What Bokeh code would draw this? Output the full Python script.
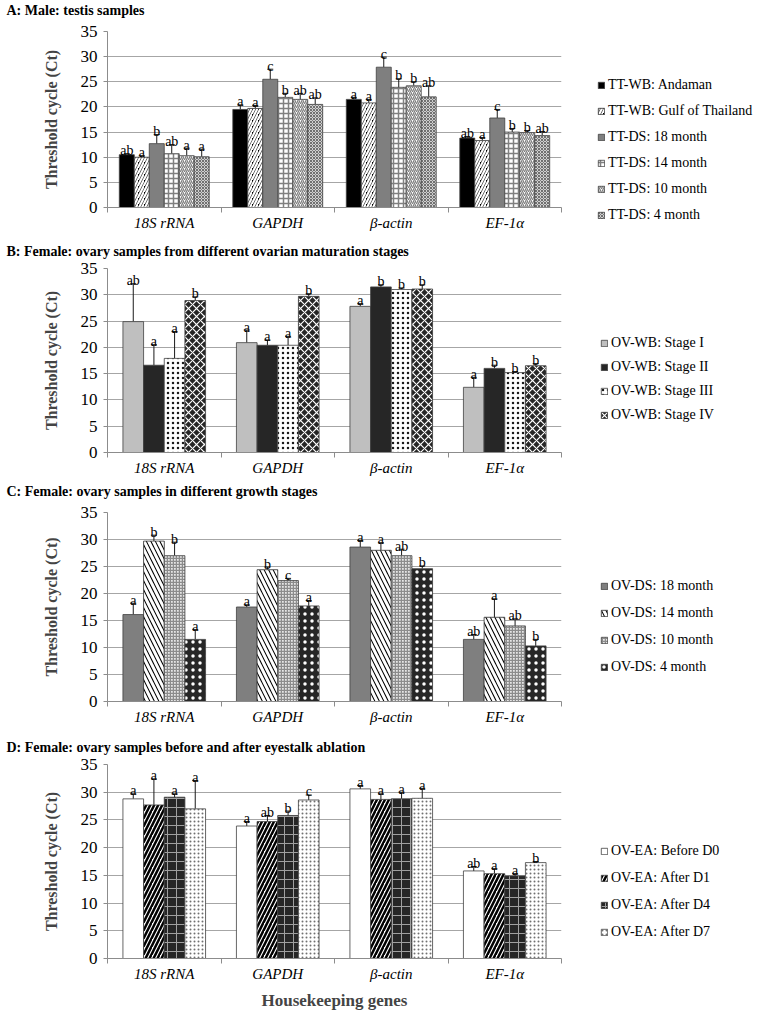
from bokeh.plotting import figure
from bokeh.models import (Range1d, FixedTicker, Whisker, TeeHead, ColumnDataSource,
                          Legend, LegendItem, Label)
from bokeh.transform import dodge
from bokeh.layouts import column
from bokeh.embed import file_html
from bokeh.resources import INLINE
from bokeh.core.properties import value

# ---------------- data ----------------
genes = ["18S rRNA", "GAPDH", "β-actin", "EF-1α"]
y_ticks = [0, 5, 10, 15, 20, 25, 30, 35]
y_label = "Threshold cycle (Ct)"
x_label = "Housekeeping genes"

a_title = "A: Male: testis samples"
a_series = ["TT-WB: Andaman", "TT-WB: Gulf of Thailand", "TT-DS: 18 month",
            "TT-DS: 14 month", "TT-DS: 10 month", "TT-DS: 4 month"]
a_means = [[10.5, 19.5, 21.5, 13.8],
           [10.0, 19.7, 20.8, 13.3],
           [12.7, 25.5, 27.9, 17.8],
           [10.7, 21.9, 23.9, 15.0],
           [10.3, 21.5, 24.2, 14.9],
           [10.1, 20.5, 22.0, 14.3]]
a_errs = [[0.2, 0.9, 0.4, 0.3],
          [0.3, 0.6, 0.7, 0.6],
          [1.8, 2.0, 2.0, 1.7],
          [1.8, 0.8, 1.7, 0.7],
          [1.5, 1.2, 0.8, 0.4],
          [1.5, 1.3, 2.2, 0.8]]
a_letters = [["ab", "a", "a", "ab"],
             ["a", "a", "a", "a"],
             ["b", "c", "c", "c"],
             ["ab", "b", "b", "b"],
             ["a", "ab", "b", "b"],
             ["a", "ab", "ab", "ab"]]

b_title = "B: Female: ovary samples from different ovarian maturation stages"
b_series = ["OV-WB: Stage I", "OV-WB: Stage II", "OV-WB: Stage III", "OV-WB: Stage IV"]
b_means = [[24.9, 20.9, 27.8, 12.4],
           [16.6, 20.4, 31.5, 16.0],
           [17.9, 20.4, 31.0, 15.2],
           [28.9, 29.7, 31.1, 16.5]]
b_errs = [[7.2, 2.4, 0.5, 1.9],
          [3.9, 1.0, 0.4, 0.6],
          [5.1, 1.7, 0.3, 0.2],
          [0.7, 0.5, 0.8, 0.4]]
b_letters = [["ab", "a", "a", "a"],
             ["a", "a", "b", "b"],
             ["a", "a", "b", "b"],
             ["b", "b", "b", "b"]]

c_title = "C: Female: ovary samples in different growth stages"
c_series = ["OV-DS: 18 month", "OV-DS: 14 month", "OV-DS: 10 month", "OV-DS: 4 month"]
c_means = [[16.1, 17.5, 28.6, 11.5],
           [29.7, 24.4, 28.0, 15.6],
           [27.0, 22.4, 27.0, 14.0],
           [11.5, 17.7, 24.6, 10.3]]
c_errs = [[2.1, 0.4, 1.2, 0.9],
          [1.1, 0.5, 1.4, 3.4],
          [2.5, 0.4, 1.2, 1.3],
          [1.8, 1.0, 0.5, 1.2]]
c_letters = [["a", "a", "a", "ab"],
             ["b", "b", "a", "a"],
             ["b", "c", "ab", "ab"],
             ["a", "a", "b", "b"]]

d_title = "D: Female: ovary samples before and after eyestalk ablation"
d_series = ["OV-EA: Before D0", "OV-EA: After D1", "OV-EA: After D4", "OV-EA: After D7"]
d_means = [[28.8, 23.9, 30.6, 15.8],
           [27.7, 24.7, 28.7, 15.3],
           [29.1, 25.8, 28.8, 14.9],
           [27.0, 28.6, 28.9, 17.3]]
d_errs = [[0.9, 0.8, 0.6, 0.8],
          [4.7, 1.1, 1.0, 0.9],
          [0.6, 0.8, 1.2, 0.4],
          [5.1, 0.9, 1.8, 0.2]]
d_letters = [["a", "a", "a", "ab"],
             ["a", "ab", "a", "a"],
             ["a", "b", "a", "a"],
             ["a", "c", "a", "b"]]

# ---------------- styles ----------------
FONT = "Liberation Serif"
OUT = "#404040"
a_styles = [
    dict(fill_color="#000000"),
    dict(fill_color="#000000", hatch_pattern="/", hatch_color="#ffffff", hatch_weight=2.2, hatch_scale=6),
    dict(fill_color="#7f7f7f"),
    dict(fill_color="#ffffff", hatch_pattern="+", hatch_color="#808080", hatch_weight=1.5, hatch_scale=5),
    dict(fill_color="#ffffff", hatch_pattern="/", hatch_color="#7f7f7f", hatch_weight=1.3, hatch_scale=4),
    dict(fill_color="#d0d0d0", hatch_pattern="x", hatch_color="#707070", hatch_weight=1.0, hatch_scale=3),
]
b_styles = [
    dict(fill_color="#bfbfbf"),
    dict(fill_color="#262626"),
    dict(fill_color="#ffffff", hatch_pattern=".", hatch_color="#1a1a1a", hatch_weight=4, hatch_scale=5),
    dict(fill_color="#262626", hatch_pattern="x", hatch_color="#ffffff", hatch_weight=1.2, hatch_scale=8),
]
c_styles = [
    dict(fill_color="#7f7f7f"),
    dict(fill_color="#000000", hatch_pattern="\\", hatch_color="#ffffff", hatch_weight=3, hatch_scale=9),
    dict(fill_color="#e6e6e6", hatch_pattern="+", hatch_color="#8c8c8c", hatch_weight=1.5, hatch_scale=3),
    dict(fill_color="#262626", hatch_pattern=".", hatch_color="#ffffff", hatch_weight=1.0, hatch_scale=7),
]
d_styles = [
    dict(fill_color="#ffffff"),
    dict(fill_color="#ffffff", hatch_pattern="/", hatch_color="#000000", hatch_weight=2.5, hatch_scale=8),
    dict(fill_color="#262626", hatch_pattern="+", hatch_color="#a0a0a0", hatch_weight=1, hatch_scale=9),
    dict(fill_color="#ffffff", hatch_pattern=".", hatch_color="#707070", hatch_weight=1.2, hatch_scale=4),
]

# category slots on the linear x scale: centres and boundaries
gene_pos = [i + 0.5 for i in range(len(genes))]
gene_bounds = [float(i) for i in range(len(genes) + 1)]


def make_panel(title, series, means, errs, letters, styles, bar_w,
               top_b, frame_h, bottom_b, title_y, leg_xy, leg_pitch, show_xlabel=False):
    p = figure(x_range=Range1d(0, len(genes)), y_range=Range1d(0, 35),
               frame_width=454, frame_height=frame_h,
               min_border_left=107, min_border_right=199,
               min_border_top=top_b, min_border_bottom=bottom_b,
               toolbar_location=None, output_backend="svg")
    p.background_fill_color = "#ffffff"
    p.border_fill_color = "#ffffff"
    p.outline_line_color = None
    p.xgrid.visible = False

    # panel title, placed in the area above the plot frame
    p.add_layout(Label(x=-101, y=title_y, x_units="screen", y_units="screen", text=title,
                       text_font=FONT, text_font_size="14px", text_font_style="bold",
                       text_color="#000000", text_align="left",
                       text_baseline="alphabetic"), "above")

    ya = p.yaxis[0]
    ya.ticker = FixedTicker(ticks=y_ticks)
    ya.axis_label = y_label
    ya.axis_label_text_font = FONT
    ya.axis_label_text_font_size = "16px"
    ya.axis_label_text_font_style = "bold"
    ya.axis_label_standoff = 18
    ya.major_label_text_font = FONT
    ya.major_label_text_font_size = "17px"
    ya.major_label_text_color = "#000000"
    ya.major_tick_out = 4
    ya.major_tick_in = 0
    ya.minor_tick_line_color = None
    ya.axis_line_color = "#8c8c8c"
    ya.major_tick_line_color = "#8c8c8c"
    ya.major_label_standoff = 6
    p.ygrid.grid_line_color = "#a6a6a6"

    xa = p.xaxis[0]
    xa.ticker = FixedTicker(ticks=gene_pos, minor_ticks=gene_bounds)
    xa.major_label_overrides = {pos: g for pos, g in zip(gene_pos, genes)}
    xa.major_tick_line_color = None
    xa.major_tick_out = 0
    xa.major_tick_in = 0
    xa.minor_tick_out = 5
    xa.minor_tick_in = 0
    xa.minor_tick_line_color = "#8c8c8c"
    xa.axis_line_color = "#8c8c8c"
    xa.major_label_standoff = 2
    xa.major_label_text_font = FONT
    xa.major_label_text_font_size = "15px"
    xa.major_label_text_font_style = "italic"
    xa.major_label_text_color = "#000000"
    if show_xlabel:
        xa.axis_label = x_label
        xa.axis_label_text_font = FONT
        xa.axis_label_text_font_size = "17px"
        xa.axis_label_text_font_style = "bold"
        xa.axis_label_standoff = 6

    n = len(series)
    items = []
    for i, name in enumerate(series):
        off = (i - (n - 1) / 2) * bar_w
        src = ColumnDataSource(data=dict(
            pos=gene_pos,
            gene=genes,
            mean=means[i],
            upper=[m + e for m, e in zip(means[i], errs[i])],
            letter=letters[i]))
        r = p.vbar(x=dodge("pos", off), top="mean", width=bar_w,
                   source=src, line_color=OUT, line_width=0.8, **styles[i])
        w = Whisker(source=src, base=dodge("pos", off),
                    upper="upper", lower="mean", dimension="height",
                    line_color="#1a1a1a", line_width=1,
                    upper_head=TeeHead(size=6, line_color="#1a1a1a", line_width=1),
                    lower_head=None)
        p.add_layout(w)
        p.text(x=dodge("pos", off), y="upper", text="letter", source=src,
               text_align="center", text_baseline="alphabetic", y_offset=-3,
               text_font=value(FONT), text_font_size=value("14px"), text_color="#000000")
        items.append(LegendItem(label=name, renderers=[r]))

    leg = Legend(items=items, location=leg_xy, orientation="vertical",
                 glyph_width=8, glyph_height=8, label_standoff=3,
                 label_height=20, spacing=int(round(leg_pitch - 20)),
                 padding=0, margin=0, border_line_color=None,
                 background_fill_alpha=0,
                 label_text_font=FONT, label_text_font_size="14px",
                 label_text_color="#000000")
    p.add_layout(leg, "right")
    return p


pa = make_panel(a_title, a_series, a_means, a_errs, a_letters, a_styles, 0.132,
                31, 176, 33, 21, (36, -18), 26)
pb = make_panel(b_title, b_series, b_means, b_errs, b_letters, b_styles, 0.182,
                28, 184, 32, 17, (39, 27), 24)
pc = make_panel(c_title, c_series, c_means, c_errs, c_letters, c_styles, 0.182,
                28, 189, 38, 21, (39, 24), 27)
pd = make_panel(d_title, d_series, d_means, d_errs, d_letters, d_styles, 0.182,
                25, 194, 50, 17, (39, 16), 27, show_xlabel=True)

layout = column(pa, pb, pc, pd, spacing=0)
open("out.html", "w").write(file_html(layout, INLINE))
